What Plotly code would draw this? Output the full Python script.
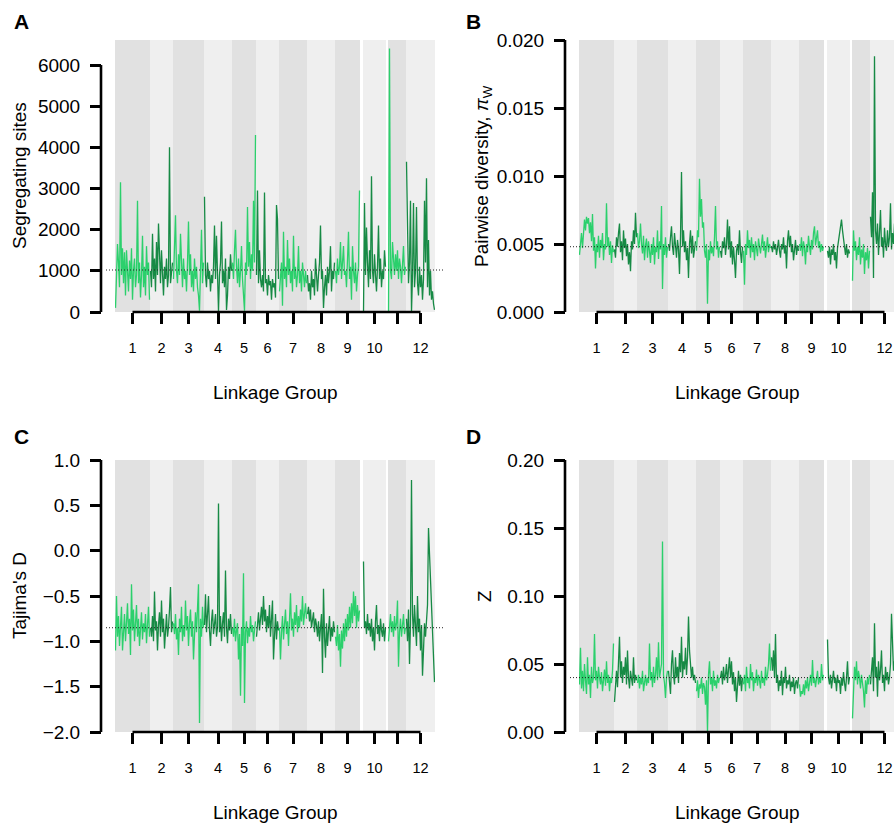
import plotly.graph_objects as go

# ---------------- data ----------------
LG_LABELS = ["1", "2", "3", "4", "5", "6", "7", "8", "9", "10", "11", "12"]
LG_SHOW_LABEL = [True, True, True, True, True, True, True, True, True, True, False, True]
LG_LENGTH = [35, 23, 31, 28, 24, 23, 28, 28, 25, 23, 18, 29]
LG_GAP_BEFORE = [0, 0, 0, 0, 0, 0, 0, 0, 0, 3, 2, 0]

SEG_SITES = [
    [100, 700, 1650, 1200, 600, 3150, 900, 1550, 700, 1450, 400, 1500, 1100, 500, 1250, 800, 1550, 300, 1000, 1300, 600, 900, 2700, 700, 1200, 350, 900, 1850, 600, 1100, 400, 1600, 900, 1200, 300],
    [1000, 600, 1900, 800, 1300, 500, 1700, 900, 2150, 1200, 700, 1500, 900, 400, 1100, 800, 1300, 600, 900, 4000, 700, 1000, 1200],
    [800, 1700, 2350, 1000, 700, 1400, 900, 1900, 1100, 600, 1300, 800, 1000, 500, 1200, 2200, 900, 1400, 600, 1000, 500, 1300, 800, 1100, 600, 400, 30, 900, 2000, 700, 1200],
    [2800, 900, 600, 1200, 800, 1000, 500, 900, 700, 1100, 2100, 800, 1850, 600, 20, 900, 1200, 2200, 700, 1000, 600, 1300, 50, 400, 1100, 800, 1400, 1000],
    [1200, 800, 1500, 2000, 1100, 700, 1300, 600, 1000, 1600, 800, 500, 30, 1200, 900, 2550, 1100, 1700, 800, 1400, 1000, 2700, 1200, 4300],
    [900, 2950, 700, 1500, 800, 600, 900, 500, 2900, 700, 800, 400, 900, 650, 750, 300, 800, 600, 700, 350, 2600, 2250, 800],
    [500, 900, 1200, 150, 1950, 800, 1100, 600, 1750, 900, 1300, 700, 1000, 500, 1850, 800, 1100, 600, 900, 1600, 700, 1000, 500, 1200, 800, 600, 1000, 700],
    [900, 500, 700, 300, 1000, 600, 800, 400, 1300, 700, 500, 900, 1200, 2100, 800, 1000, 100, 600, 900, 400, 1100, 700, 1000, 1600, 500, 1000, 800, 1200],
    [1000, 700, 1300, 900, 1100, 1700, 800, 1200, 1600, 900, 1000, 600, 1400, 1950, 800, 1100, 300, 1600, 1000, 700, 1200, 500, 900, 1100, 2950],
    [0, 2650, 900, 2050, 1200, 600, 1500, 800, 3300, 1000, 700, 1400, 900, 500, 1100, 2100, 800, 1300, 600, 1000, 800, 1500, 1100],
    [0, 6400, 1000, 800, 1700, 1200, 900, 1400, 1000, 1500, 800, 1300, 1100, 700, 1200, 1600, 900, 1100],
    [3650, 2400, 700, 1200, 2700, 0, 900, 2650, 600, 1000, 2550, 700, 400, 1100, 600, 900, 300, 800, 2700, 1200, 3250, 600, 1750, 400, 1000, 300, 500, 200, 50],
]

PI_W = [
    [0.0042, 0.0050, 0.0058, 0.0047, 0.0062, 0.0068, 0.0060, 0.0070, 0.0065, 0.0069, 0.0058, 0.0066, 0.0052, 0.0072, 0.0045, 0.0055, 0.0032, 0.0050, 0.0044, 0.0056, 0.0040, 0.0053, 0.0047, 0.0058, 0.0038, 0.0050, 0.0046, 0.0080, 0.0048, 0.0055, 0.0042, 0.0052, 0.0036, 0.0049, 0.0044],
    [0.0046, 0.0040, 0.0055, 0.0048, 0.0058, 0.0065, 0.0044, 0.0052, 0.0038, 0.0060, 0.0047, 0.0054, 0.0041, 0.0050, 0.0035, 0.0044, 0.0030, 0.0052, 0.0046, 0.0060, 0.0050, 0.0073, 0.0055],
    [0.0058, 0.0047, 0.0052, 0.0065, 0.0050, 0.0043, 0.0056, 0.0038, 0.0049, 0.0054, 0.0040, 0.0052, 0.0045, 0.0036, 0.0050, 0.0042, 0.0055, 0.0035, 0.0048, 0.0044, 0.0060, 0.0039, 0.0052, 0.0046, 0.0078, 0.0017, 0.0050, 0.0042, 0.0055, 0.0040, 0.0048],
    [0.0050, 0.0045, 0.0055, 0.0063, 0.0048, 0.0042, 0.0058, 0.0050, 0.0040, 0.0053, 0.0046, 0.0028, 0.0055, 0.0103, 0.0048, 0.0060, 0.0044, 0.0052, 0.0038, 0.0047, 0.0025, 0.0050, 0.0060, 0.0043, 0.0056, 0.0040, 0.0048, 0.0052],
    [0.0045, 0.0060, 0.0055, 0.0098, 0.0070, 0.0083, 0.0062, 0.0066, 0.0045, 0.0040, 0.0050, 0.0006, 0.0046, 0.0038, 0.0052, 0.0043, 0.0048, 0.0041, 0.0055, 0.0078, 0.0046, 0.0052, 0.0040, 0.0048],
    [0.0045, 0.0040, 0.0052, 0.0047, 0.0055, 0.0042, 0.0050, 0.0068, 0.0046, 0.0063, 0.0040, 0.0052, 0.0035, 0.0048, 0.0038, 0.0025, 0.0045, 0.0050, 0.0042, 0.0060, 0.0044, 0.0036, 0.0048],
    [0.0045, 0.0020, 0.0050, 0.0042, 0.0060, 0.0047, 0.0053, 0.0040, 0.0055, 0.0044, 0.0050, 0.0038, 0.0052, 0.0046, 0.0041, 0.0054, 0.0048, 0.0043, 0.0050, 0.0057, 0.0045, 0.0052, 0.0040, 0.0049, 0.0055, 0.0044, 0.0050, 0.0047],
    [0.0048, 0.0044, 0.0052, 0.0046, 0.0050, 0.0042, 0.0047, 0.0053, 0.0045, 0.0040, 0.0050, 0.0046, 0.0055, 0.0043, 0.0049, 0.0032, 0.0052, 0.0060, 0.0048, 0.0056, 0.0044, 0.0050, 0.0038, 0.0047, 0.0053, 0.0042, 0.0049, 0.0045],
    [0.0050, 0.0045, 0.0055, 0.0041, 0.0052, 0.0047, 0.0035, 0.0050, 0.0044, 0.0056, 0.0048, 0.0042, 0.0053, 0.0046, 0.0058, 0.0063, 0.0049, 0.0055, 0.0060, 0.0047, 0.0052, 0.0044, 0.0050, 0.0045, 0.0048],
    [0.0045, 0.0040, 0.0048, 0.0035, 0.0046, 0.0042, 0.0050, 0.0038, 0.0044, 0.0032, 0.0047, 0.0052, 0.0058, 0.0062, 0.0068, 0.0060, 0.0055, 0.0048, 0.0042, 0.0050, 0.0040, 0.0046, 0.0043],
    [0.0023, 0.0060, 0.0045, 0.0052, 0.0038, 0.0048, 0.0042, 0.0055, 0.0035, 0.0046, 0.0040, 0.0050, 0.0028, 0.0044, 0.0038, 0.0047, 0.0032, 0.0045],
    [0.0070, 0.0055, 0.0088, 0.0025, 0.0188, 0.0060, 0.0050, 0.0065, 0.0042, 0.0058, 0.0075, 0.0048, 0.0055, 0.0040, 0.0062, 0.0050, 0.0045, 0.0060, 0.0048, 0.0055, 0.0080, 0.0046, 0.0058, 0.0050, 0.0065, 0.0044, 0.0052, 0.0060, 0.0048],
]

TAJIMA_D = [
    [-1.10, -0.50, -0.95, -0.72, -1.05, -0.80, -0.62, -1.10, -0.85, -0.70, -1.00, -0.78, -0.58, -0.92, -0.75, -1.15, -0.37, -0.88, -0.65, -1.00, -0.82, -0.60, -0.95, -0.75, -1.05, -0.85, -0.68, -0.98, -0.80, -0.90, -0.70, -1.02, -0.85, -0.62, -0.95],
    [-0.85, -0.95, -0.72, -1.00, -0.45, -0.88, -0.78, -1.10, -0.82, -0.68, -0.95, -0.55, -0.90, -0.75, -1.08, -0.80, -0.70, -0.95, -0.85, -0.65, -0.40, -0.90, -0.78],
    [-0.80, -0.92, -0.70, -0.98, -0.85, -1.15, -0.75, -0.90, -0.62, -1.00, -0.82, -0.95, -0.55, -0.88, -0.72, -1.05, -0.80, -0.65, -0.95, -0.78, -1.20, -0.85, -0.68, -0.90, -0.60, -0.37, -1.90, -0.75, -0.95, -0.62, -0.85],
    [-0.82, -0.48, -0.90, -0.75, -0.50, -0.88, -1.05, -0.78, -0.65, -0.92, -0.80, -0.70, -0.95, -0.85, 0.52, -0.90, -0.72, -1.00, -0.80, -0.68, -0.95, -0.22, -0.85, -1.02, -0.75, -0.88, -0.70, -0.92],
    [-0.85, -0.95, -0.75, -1.00, -0.88, -0.80, -1.20, -0.92, -1.60, -0.85, -1.05, -0.25, -1.68, -0.90, -0.78, -1.02, -0.85, -0.95, -0.72, -0.90, -0.82, -1.00, -0.88, -0.78],
    [-0.95, -0.80, -0.68, -0.88, -0.75, -0.62, -0.82, -0.50, -0.78, -0.65, -0.90, -0.72, -0.85, -0.60, -0.95, -0.80, -0.55, -1.20, -0.85, -0.70, -0.98, -0.78, -0.88],
    [-0.85, -1.20, -0.90, -0.72, -0.98, -0.80, -0.65, -0.92, -0.78, -1.05, -0.70, -0.47, -0.88, -0.75, -0.95, -0.68, -0.82, -0.60, -0.90, -0.72, -0.85, -0.65, -0.78, -0.50, -0.82, -0.70, -0.58, -0.75],
    [-0.70, -0.62, -0.78, -0.65, -0.85, -0.72, -0.68, -0.90, -0.75, -0.82, -0.95, -0.78, -1.00, -0.85, -0.70, -1.35, -0.42, -0.95, -1.18, -0.80, -1.05, -0.88, -0.72, -1.00, -0.85, -0.95, -0.78, -0.90],
    [-0.95, -1.05, -0.82, -1.10, -0.92, -1.28, -0.88, -1.08, -0.80, -1.00, -0.75, -0.95, -0.70, -0.88, -0.62, -0.85, -0.58, -0.80, -0.45, -0.72, -0.50, -0.85, -0.60, -0.78, -0.66],
    [-0.12, -0.85, -0.78, -0.92, -0.70, -0.88, -0.80, -0.95, -0.75, -1.00, -0.85, -1.10, -0.78, -0.60, -0.92, -0.82, -1.00, -0.75, -0.88, -0.95, -0.80, -1.00, -0.85],
    [-1.00, -0.85, -0.70, -0.90, -0.78, -0.95, -0.72, -0.88, -0.80, -0.55, -1.28, -0.90, -0.75, -0.95, -0.82, -0.70, -0.92, -0.85],
    [-0.75, -1.00, -0.65, -1.25, -0.80, 0.78, -0.70, -0.95, -0.60, -0.85, -1.05, -0.50, -0.90, -0.75, -1.10, -0.82, -1.38, -1.10, -0.80, -0.95, -0.78, -0.60, 0.25, -0.05, -0.35, -0.65, -0.95, -1.20, -1.45],
]

Z_STAT = [
    [0.035, 0.062, 0.032, 0.045, 0.030, 0.050, 0.038, 0.028, 0.055, 0.035, 0.042, 0.025, 0.048, 0.036, 0.040, 0.072, 0.038, 0.045, 0.032, 0.048, 0.040, 0.035, 0.044, 0.030, 0.038, 0.046, 0.034, 0.052, 0.036, 0.042, 0.030, 0.040, 0.036, 0.045, 0.065],
    [0.022, 0.038, 0.045, 0.033, 0.050, 0.070, 0.040, 0.052, 0.036, 0.048, 0.042, 0.055, 0.035, 0.060, 0.040, 0.032, 0.045, 0.038, 0.034, 0.055, 0.036, 0.042, 0.038],
    [0.036, 0.042, 0.032, 0.040, 0.035, 0.045, 0.030, 0.038, 0.042, 0.034, 0.040, 0.036, 0.065, 0.038, 0.044, 0.033, 0.048, 0.036, 0.042, 0.055, 0.038, 0.066, 0.040, 0.045, 0.050, 0.140, 0.042, 0.036, 0.025, 0.040, 0.045],
    [0.045, 0.038, 0.028, 0.050, 0.060, 0.042, 0.035, 0.055, 0.040, 0.048, 0.036, 0.058, 0.044, 0.070, 0.040, 0.052, 0.046, 0.062, 0.042, 0.055, 0.085, 0.060, 0.045, 0.040, 0.048, 0.038, 0.042, 0.036],
    [0.030, 0.038, 0.025, 0.035, 0.032, 0.040, 0.028, 0.036, 0.033, 0.020, 0.038, 0.000, 0.042, 0.052, 0.035, 0.040, 0.030, 0.045, 0.034, 0.038, 0.032, 0.042, 0.036, 0.040],
    [0.040, 0.045, 0.035, 0.048, 0.038, 0.042, 0.050, 0.036, 0.046, 0.055, 0.040, 0.052, 0.035, 0.044, 0.030, 0.040, 0.022, 0.038, 0.045, 0.034, 0.042, 0.030, 0.040],
    [0.035, 0.042, 0.030, 0.048, 0.036, 0.040, 0.032, 0.050, 0.038, 0.044, 0.030, 0.040, 0.036, 0.046, 0.034, 0.042, 0.038, 0.032, 0.045, 0.036, 0.040, 0.034, 0.048, 0.038, 0.042, 0.050, 0.065, 0.045],
    [0.055, 0.045, 0.060, 0.040, 0.072, 0.036, 0.042, 0.030, 0.038, 0.034, 0.045, 0.027, 0.040, 0.036, 0.048, 0.032, 0.038, 0.035, 0.042, 0.030, 0.037, 0.033, 0.040, 0.028, 0.036, 0.038, 0.032, 0.040],
    [0.035, 0.026, 0.030, 0.028, 0.035, 0.027, 0.038, 0.032, 0.040, 0.030, 0.036, 0.042, 0.034, 0.053, 0.036, 0.040, 0.033, 0.038, 0.045, 0.035, 0.040, 0.036, 0.050, 0.038, 0.042],
    [0.068, 0.040, 0.035, 0.042, 0.032, 0.038, 0.045, 0.036, 0.040, 0.030, 0.042, 0.036, 0.038, 0.028, 0.040, 0.034, 0.044, 0.036, 0.030, 0.040, 0.052, 0.035, 0.040],
    [0.010, 0.040, 0.048, 0.038, 0.052, 0.035, 0.045, 0.040, 0.032, 0.042, 0.036, 0.030, 0.018, 0.038, 0.028, 0.040, 0.035, 0.042],
    [0.035, 0.045, 0.055, 0.030, 0.080, 0.040, 0.048, 0.026, 0.052, 0.038, 0.045, 0.060, 0.036, 0.042, 0.030, 0.048, 0.038, 0.044, 0.035, 0.040, 0.050, 0.087, 0.060, 0.045, 0.052, 0.040, 0.048, 0.042, 0.050],
]

GENOME_MEANS = {"A": 1020, "B": 0.0048, "C": -0.85, "D": 0.040}

A_TICKS = [0, 1000, 2000, 3000, 4000, 5000, 6000]
B_TICKS = [0.000, 0.005, 0.010, 0.015, 0.020]
C_TICKS = [-2.0, -1.5, -1.0, -0.5, 0.0, 0.5, 1.0]
D_TICKS = [0.00, 0.05, 0.10, 0.15, 0.20]

# ---------------- geometry / style ----------------
W, H = 894, 824
FONT = "Liberation Sans, Arial, Helvetica, sans-serif"
LIGHT_GREEN = "#2bd06c"
DARK_GREEN = "#178a45"
BAND_DARK = "#e1e1e1"
BAND_LIGHT = "#efefef"


def fx(p):
    return p / W


def fy(p):
    return 1 - p / H


lg_start, lg_end = [], []
pos = 0
for L, g in zip(LG_LENGTH, LG_GAP_BEFORE):
    pos += g
    lg_start.append(pos)
    pos += L
    lg_end.append(pos)
lg_center = [(s + e) / 2 for s, e in zip(lg_start, lg_end)]
GENOME_END = lg_end[-1]
major_vals = [c for c, s in zip(lg_center, LG_SHOW_LABEL) if s]
major_text = [t for t, s in zip(LG_LABELS, LG_SHOW_LABEL) if s]
minor_vals = [c for c, s in zip(lg_center, LG_SHOW_LABEL) if not s]

panels = [
    dict(letter="A", data=SEG_SITES, ticks=A_TICKS, fmt="d", yr=(0, 6608),
         xdom=(115, 435), ydom=(40, 312), yax_x=101, xr=(0, GENOME_END),
         ytitle="Segregating sites", ytitle_x=19, xtitle_x=275, xtitle_y=393,
         letter_x=12, letter_y=22, dot=(106, 445)),
    dict(letter="B", data=PI_W, ticks=B_TICKS, fmt=".3f", yr=(0, 0.020),
         xdom=(579, 894), ydom=(40, 312), yax_x=565, xr=(0, GENOME_END - 5),
         ytitle="Pairwise diversity, <i>π</i><sub>W</sub>", ytitle_x=483,
         xtitle_x=737, xtitle_y=393, letter_x=464, letter_y=22, dot=(570, 894)),
    dict(letter="C", data=TAJIMA_D, ticks=C_TICKS, fmt=".1f", yr=(-2.0, 1.0),
         xdom=(115, 435), ydom=(460, 732), yax_x=101, xr=(0, GENOME_END),
         ytitle="Tajima's D", ytitle_x=19, xtitle_x=275, xtitle_y=812,
         letter_x=12, letter_y=436, dot=(106, 445)),
    dict(letter="D", data=Z_STAT, ticks=D_TICKS, fmt=".2f", yr=(0, 0.20),
         xdom=(579, 894), ydom=(460, 732), yax_x=565, xr=(0, GENOME_END - 5),
         ytitle="Z", ytitle_x=484, xtitle_x=737, xtitle_y=812,
         letter_x=464, letter_y=436, dot=(570, 894)),
]

fig = go.Figure()
shapes, annotations = [], []

for i, p in enumerate(panels):
    sfx = "" if i == 0 else str(i + 1)
    xa, ya = "x" + sfx, "y" + sfx

    # alternating linkage-group bands
    for j in range(12):
        shapes.append(dict(type="rect", xref=xa, yref=ya + " domain",
                           x0=lg_start[j], x1=lg_end[j], y0=0, y1=1,
                           fillcolor=BAND_DARK if j % 2 == 0 else BAND_LIGHT,
                           line=dict(width=0), layer="below"))

    # window values, one trace per linkage group (alternating greens)
    for j, vals in enumerate(p["data"]):
        n = len(vals)
        step = LG_LENGTH[j] / n
        xs = [lg_start[j] + (k + 0.5) * step for k in range(n)]
        fig.add_trace(go.Scatter(
            x=xs, y=vals, mode="lines",
            line=dict(color=LIGHT_GREEN if j % 2 == 0 else DARK_GREEN, width=1.3),
            xaxis=xa, yaxis=ya, showlegend=False, hoverinfo="skip"))

    # genome-wide mean (dotted)
    shapes.append(dict(type="line", xref="paper", yref=ya,
                       x0=fx(p["dot"][0]), x1=fx(p["dot"][1]),
                       y0=GENOME_MEANS[p["letter"]], y1=GENOME_MEANS[p["letter"]],
                       line=dict(color="#222222", width=1, dash="1px,2px"),
                       layer="above"))

    # R-style axis lines spanning first..last tick
    shapes.append(dict(type="line", xref=xa, yref=ya + " domain",
                       x0=lg_center[0], x1=lg_center[-1], y0=0, y1=0,
                       line=dict(color="black", width=2.6), layer="above"))
    shapes.append(dict(type="line", xref="paper", yref=ya,
                       x0=fx(p["yax_x"]), x1=fx(p["yax_x"]),
                       y0=p["ticks"][0], y1=p["ticks"][-1],
                       line=dict(color="black", width=2.6), layer="above"))

    fig.update_layout(**{
        ("xaxis" + sfx): dict(
            domain=[fx(p["xdom"][0]), fx(p["xdom"][1])], range=list(p["xr"]),
            anchor=ya, tickvals=major_vals, ticktext=major_text,
            ticks="outside", ticklen=11, tickwidth=2.6, tickcolor="black",
            minor=dict(tickvals=minor_vals, ticks="outside", ticklen=11,
                       tickwidth=2.6, tickcolor="black", showgrid=False),
            showline=False, showgrid=False, zeroline=False, automargin=False,
            tickfont=dict(family=FONT, size=14.5, color="black"),
            ticklabelstandoff=12, fixedrange=True),
        ("yaxis" + sfx): dict(
            domain=[fy(p["ydom"][1]), fy(p["ydom"][0])], range=list(p["yr"]),
            anchor="free", position=fx(p["yax_x"]),
            tickvals=p["ticks"], tickformat=p["fmt"],
            ticks="outside", ticklen=11, tickwidth=2.6, tickcolor="black",
            showline=False, showgrid=False, zeroline=False, automargin=False,
            tickfont=dict(family=FONT, size=19, color="black"),
            ticklabelstandoff=6, fixedrange=True),
    })

    annotations.append(dict(text="<b>" + p["letter"] + "</b>", xref="paper", yref="paper",
                            x=fx(p["letter_x"]), y=fy(p["letter_y"]), xanchor="left",
                            yanchor="middle", showarrow=False,
                            font=dict(family=FONT, size=21, color="black")))
    annotations.append(dict(text=p["ytitle"], xref="paper", yref="paper",
                            x=fx(p["ytitle_x"]), y=fy((p["ydom"][0] + p["ydom"][1]) / 2),
                            xanchor="center", yanchor="middle", textangle=-90,
                            showarrow=False, font=dict(family=FONT, size=19, color="black")))
    annotations.append(dict(text="Linkage Group", xref="paper", yref="paper",
                            x=fx(p["xtitle_x"]), y=fy(p["xtitle_y"]),
                            xanchor="center", yanchor="middle", showarrow=False,
                            font=dict(family=FONT, size=19, color="black")))

fig.update_layout(
    width=W, height=H, autosize=False,
    margin=dict(l=0, r=0, t=0, b=0, pad=0, autoexpand=False),
    paper_bgcolor="white", plot_bgcolor="white",
    font=dict(family=FONT, color="black"),
    shapes=shapes, annotations=annotations,
    showlegend=False,
)

PIN_TO_VIEWPORT = (
    "document.documentElement.style.margin='0';"
    "document.body.style.margin='0';document.body.style.padding='0';"
    "document.body.style.overflow='hidden';"
    "var gd=document.getElementById('{plot_id}');"
    "gd.style.position='fixed';gd.style.left='0px';gd.style.top='0px';"
)

fig.write_html("out.html", config={"displayModeBar": False}, post_script=PIN_TO_VIEWPORT)
